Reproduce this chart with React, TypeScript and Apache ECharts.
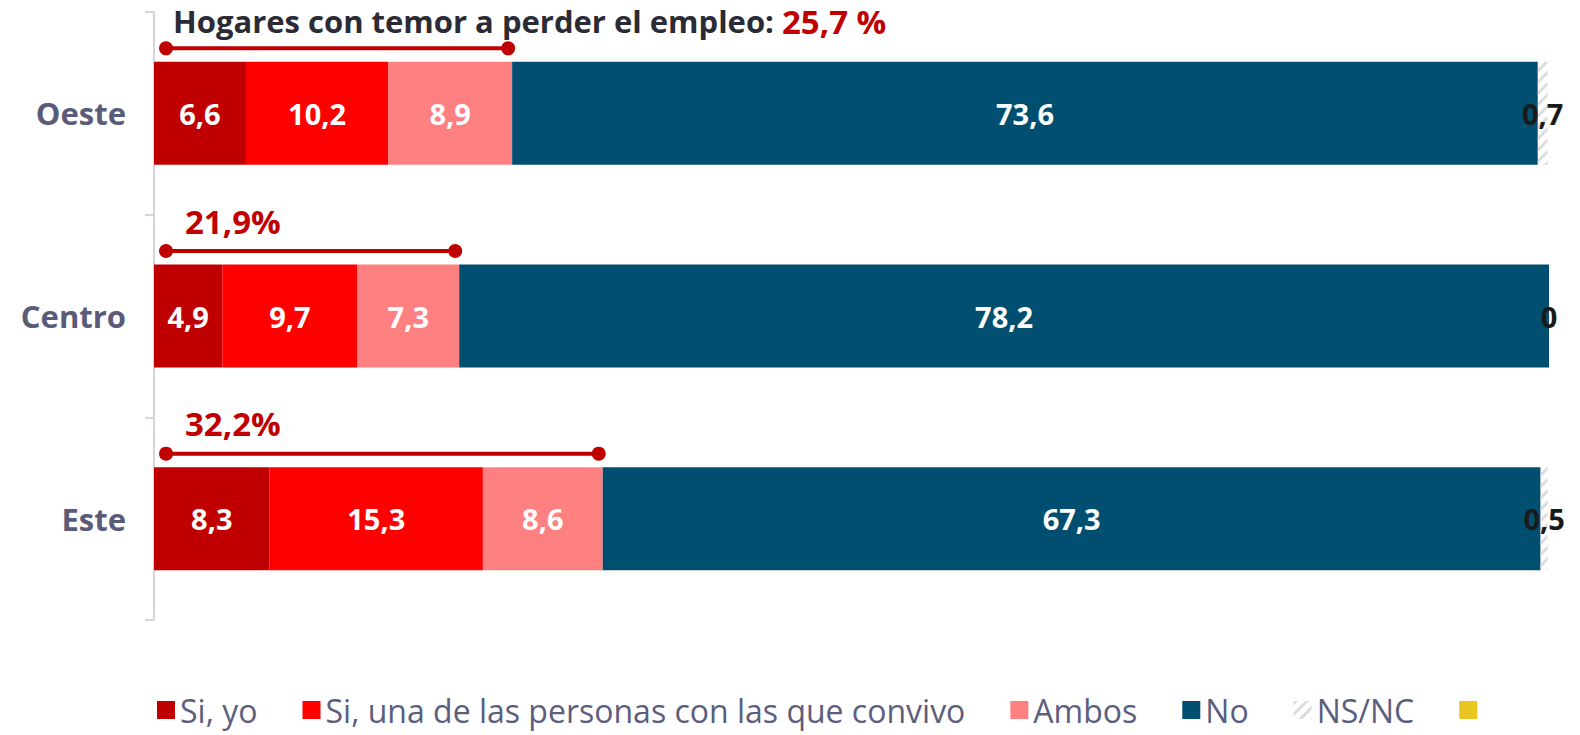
import React, { useEffect, useRef } from "react";
import * as echarts from "echarts";

const categories = ["Oeste", "Centro", "Este"];
const seriesNames = ["Si, yo", "Si, una de las personas con las que convivo", "Ambos", "No", "NS/NC", " "];
const siYo = [6.6, 4.9, 8.3];
const siConvivo = [10.2, 9.7, 15.3];
const ambos = [8.9, 7.3, 8.6];
const no = [73.6, 78.2, 67.3];
const nsnc = [0.7, 0, 0.5];
const empty = [0, 0, 0];
const temorTotals = [25.7, 21.9, 32.2];
const titleText = "Hogares con temor a perder el empleo: ";

const colors = ["#c00000", "#ff0000", "#ff8080", "#004f71", "#f4f4f4", "#e8c520"];
const FONT = "'Open Sans'";

const fmt = (v: number) => String(v).replace(".", ",");

export default function App() {
  const ref = useRef<HTMLDivElement>(null);
  useEffect(() => {
    if (!ref.current) return;
    const chart = echarts.init(ref.current, null, { renderer: "svg" });
    const values = [siYo, siConvivo, ambos, no, nsnc, empty];
    const barSeries = values.map((arr, i) => ({
      type: "bar",
      name: seriesNames[i],
      stack: "total",
      barWidth: 103,
      data: arr,
      itemStyle: i === 4
        ? {
            color: "#ffffff",
            decal: {
              symbol: "rect",
              color: "#dcdcdc",
              backgroundColor: "#ffffff",
              dashArrayX: [1, 0],
              dashArrayY: [3, 5],
              rotation: -Math.PI / 4,
            },
          }
        : { color: colors[i] },
      label: {
        show: i < 5,
        position: "inside",
        color: i === 4 ? "#1a1a1a" : "#ffffff",
        fontFamily: FONT,
        fontWeight: "bold",
        fontSize: 29,
        formatter: (p: any) => fmt(p.value),
      },
      emphasis: { disabled: true },
    }));

    const annot = {
      type: "custom",
      name: "annot",
      z: 10,
      silent: true,
      encode: { x: 0, y: 1 },
      data: temorTotals.map((t, i) => [t, i]),
      renderItem: (params: any, api: any) => {
        const v = api.value(0);
        const cat = api.value(1);
        const p0 = api.coord([0, cat]);
        const p1 = api.coord([v, cat]);
        const y = p0[1] - 65;
        const x0 = p0[0] + 12;
        const x1 = p1[0] - 4;
        const idx = params.dataIndex;
        const red = "#c00000";
        const children: any[] = [
          { type: "line", shape: { x1: x0, y1: y, x2: x1, y2: y }, style: { stroke: red, lineWidth: 4 } },
          { type: "circle", shape: { cx: x0, cy: y, r: 7 }, style: { fill: red } },
          { type: "circle", shape: { cx: x1, cy: y, r: 7 }, style: { fill: red } },
        ];
        if (idx === 0) {
          children.push({
            type: "text",
            x: x0 + 7,
            y: y - 27,
            style: {
              text: "{a|" + titleText + "}{b|" + fmt(v) + " %}",
              verticalAlign: "middle",
              align: "left",
              rich: {
                a: { fontFamily: FONT, fontWeight: "bold", fontSize: 31, fill: "#2b2b35", color: "#2b2b35" },
                b: { fontFamily: FONT, fontWeight: "bold", fontSize: 33, fill: red, color: red },
              },
            },
          });
        } else {
          children.push({
            type: "text",
            x: x0 + 19,
            y: y - 30,
            style: {
              text: fmt(v) + "%",
              fontFamily: FONT,
              fontWeight: "bold",
              fontSize: 33,
              fill: red,
              verticalAlign: "middle",
              align: "left",
            },
          });
        }
        return { type: "group", children };
      },
    };

    chart.setOption({
      animation: false,
      grid: { left: 154, right: 31, top: 12, bottom: 115, containLabel: false },
      xAxis: {
        type: "value",
        min: 0,
        max: "dataMax",
        show: false,
      },
      yAxis: {
        type: "category",
        data: categories,
        inverse: true,
        axisLine: { show: true, lineStyle: { color: "#d4d4e0", width: 2 } },
        axisTick: { show: true, length: 9, lineStyle: { color: "#d4d4e0", width: 2 } },
        axisLabel: {
          color: "#5a5b78",
          fontFamily: FONT,
          fontWeight: "bold",
          fontSize: 31,
          margin: 28,
        },
      },
      legend: {
        data: seriesNames,
        bottom: 4,
        left: 152,
        itemWidth: 18,
        itemHeight: 18,
        itemGap: 45,
        icon: "rect",
        textStyle: { color: "#5b5e7e", fontFamily: FONT, fontSize: 32, padding: [0, 0, 0, 0] },
        selectedMode: false,
      },
      series: [...barSeries, annot],
    });
    return () => chart.dispose();
  }, []);
  return (
    <div
      ref={ref}
      style={{ position: "fixed", left: 0, top: 0, width: 1580, height: 735, background: "#fff" }}
    />
  );
}
